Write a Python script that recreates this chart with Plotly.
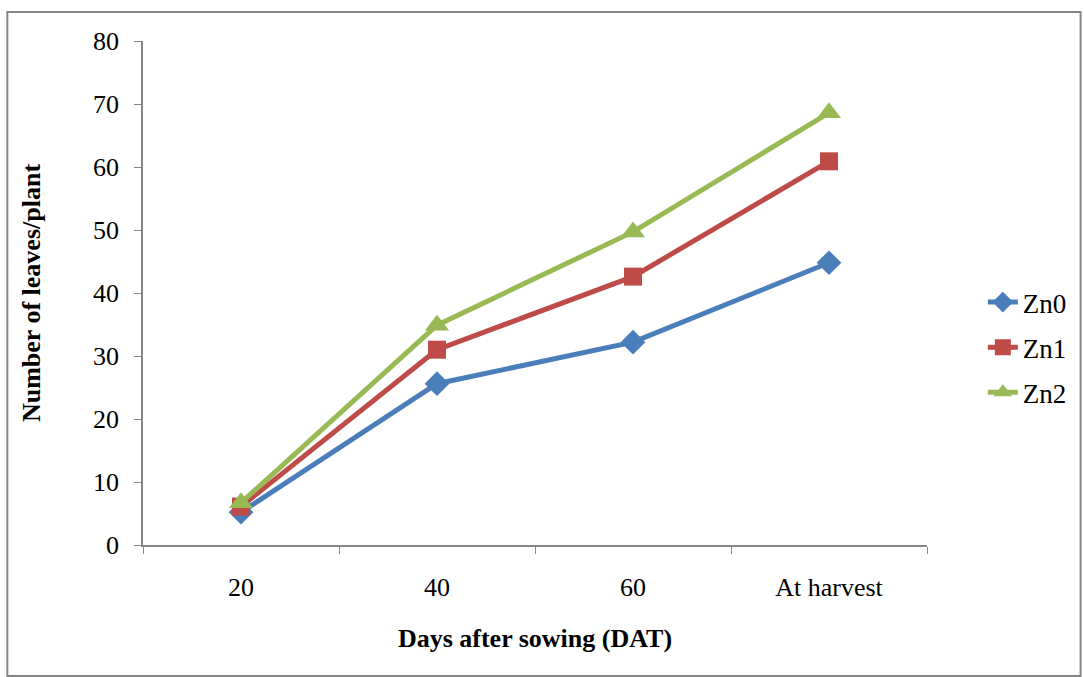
import plotly.graph_objects as go

categories = ["20", "40", "60", "At harvest"]
zn0 = [5.2, 25.6, 32.2, 44.8]
zn1 = [6.1, 31.0, 42.6, 60.9]
zn2 = [6.7, 34.9, 49.7, 68.6]

series = [
    ("Zn0", zn0, "#4A7EBB", "diamond", 19),
    ("Zn1", zn1, "#BE4B48", "square", 18),
    ("Zn2", zn2, "#98B954", "triangle-up", 21),
]

fig = go.Figure()
for name, vals, color, sym, size in series:
    fig.add_trace(go.Scatter(
        x=categories, y=vals, name=name, legendgroup=name, mode="lines+markers",
        line=dict(color=color, width=5),
        marker=dict(symbol=sym, size=size, color=color),
    ))

W, H = 1084, 677
ml, mr, mt, mb = 143, 155, 41, 132
pw, ph = W - ml - mr, H - mt - mb

font = "Liberation Serif"
fig.update_layout(
    width=W, height=H,
    margin=dict(l=ml, r=mr, t=mt, b=mb),
    paper_bgcolor="white", plot_bgcolor="white",
    font=dict(family=font, size=26, color="black"),
    showlegend=True,
    legend=dict(x=(985 - ml) / pw, y=(545 - 278) / ph, xanchor="left", yanchor="top",
                font=dict(family=font, size=27, color="black"), tracegroupgap=7,
                bgcolor="rgba(0,0,0,0)"),
    xaxis=dict(
        type="category", range=[-0.5, 3.5], tickson="boundaries", ticks="outside", ticklen=7,
        tickcolor="#868686", showline=True, linecolor="#868686", linewidth=1.5,
        showgrid=False, zeroline=False, tickfont=dict(family=font, size=26),
        ticklabelstandoff=18,
        title=dict(text="<b>Days after sowing (DAT)</b>", font=dict(family=font, size=26), standoff=28),
    ),
    yaxis=dict(
        range=[0, 80], dtick=10, ticks="outside", ticklen=7,
        tickcolor="#868686", showline=True, linecolor="#868686", linewidth=1.5,
        showgrid=False, zeroline=False, tickfont=dict(family=font, size=26),
        ticklabelstandoff=10,
        title=dict(text="<b>Number of leaves/plant</b>", font=dict(family=font, size=26), standoff=45),
    ),
    shapes=[dict(
        type="rect", xref="paper", yref="paper",
        x0=(7 - ml) / pw, x1=(1083 - ml) / pw,
        y0=-(676 - 545) / ph, y1=1 + (mt - 12) / ph,
        line=dict(color="#868686", width=2), layer="below",
    )],
)

fig.write_html("out.html")
